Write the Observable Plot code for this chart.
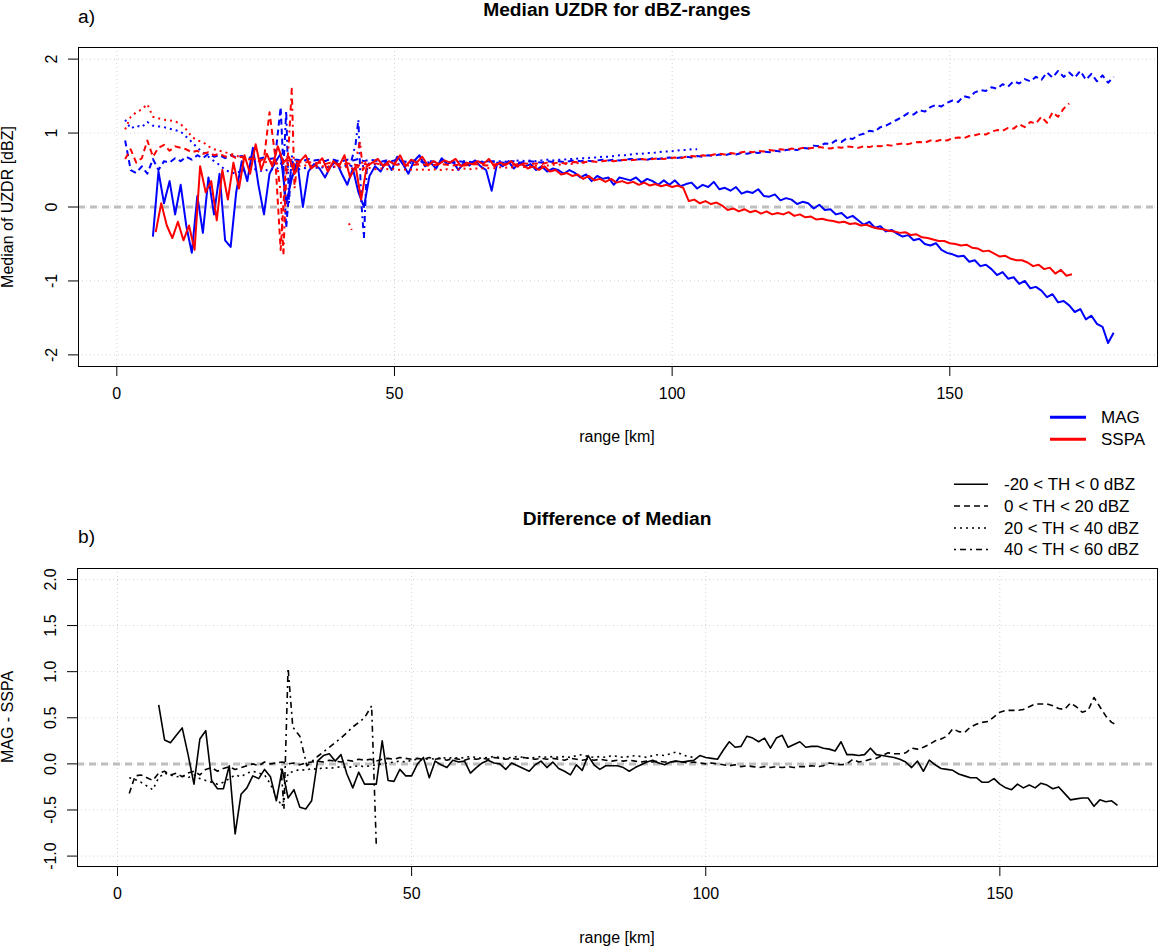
<!DOCTYPE html>
<html><head><meta charset="utf-8">
<script src="https://cdn.jsdelivr.net/npm/d3@7"></script>
<script src="https://cdn.jsdelivr.net/npm/@observablehq/plot@0.6"></script>
<style>
body{margin:0;background:#fff;font-family:"Liberation Sans",Arial,Helvetica,sans-serif;}
#wrap{position:relative;width:1158px;height:947px;overflow:hidden;background:#fff;}
.t{position:absolute;white-space:nowrap;color:#000;line-height:1;}
.c{transform:translate(-50%,-50%);}
.r{transform:translate(-50%,-50%) rotate(-90deg);}
.fig{position:absolute;left:0;}
</style></head><body><div id="wrap"></div>
<script>
// ---------- categories / labels ----------
const systems = ["MAG", "SSPA"];
const systemColors = ["#0000FF", "#FF0000"];
const thClasses = ["-20 < TH < 0 dBZ", "0 < TH < 20 dBZ", "20 < TH < 40 dBZ", "40 < TH < 60 dBZ"];
const xTicks = [0, 50, 100, 150];
const yTicksA = [-2, -1, 0, 1, 2];
const yTicksB = [-1, -0.5, 0, 0.5, 1, 1.5, 2];

// ---------- panel a: MAG (km step 1) ----------
const magSolidStart = 6.5;
const magSolid = [-0.40,0.48,0.05,0.35,-0.10,0.30,-0.25,-0.62,0.15,-0.35,0.40,-0.10,0.45,-0.45,-0.54,0.20,0.62,0.35,0.80,0.30,
-0.10,0.45,0.60,0.72,0.05,0.38,0.62,0.00,0.48,0.58,0.52,0.40,0.55,0.62,0.45,0.30,0.52,0.20,0.00,0.42,
0.55,0.48,0.62,0.50,0.68,0.58,0.45,0.62,0.70,0.55,0.60,0.52,0.66,0.58,0.62,0.50,0.60,0.56,0.63,0.55,
0.50,0.22,0.60,0.55,0.62,0.52,0.60,0.55,0.58,0.50,0.55,0.48,0.52,0.50,0.45,0.50,0.46,0.40,0.44,0.35,
0.42,0.38,0.40,0.30,0.40,0.38,0.36,0.40,0.33,0.38,0.35,0.30,0.36,
0.30,0.36,0.28,0.31,0.33,0.25,0.30,0.27,0.34,0.24,0.26,0.22,0.27,0.18,0.21,0.19,0.24,0.15,0.14,0.17,
0.09,0.12,0.10,0.04,0.07,0.05,-0.02,0.03,-0.04,-0.03,-0.10,-0.08,-0.15,-0.12,-0.18,-0.24,-0.20,-0.28,-0.26,-0.33,
-0.31,-0.36,-0.40,-0.38,-0.45,-0.43,-0.50,-0.52,-0.49,-0.58,-0.62,-0.64,-0.67,-0.66,-0.74,-0.72,-0.80,-0.78,-0.84,-0.92,
-0.88,-0.97,-0.95,-1.04,-1.00,-1.10,-1.08,-1.13,-1.22,-1.18,-1.29,-1.27,-1.33,-1.42,-1.38,-1.52,-1.47,-1.58,-1.62,-1.84,
-1.70];
const magDashedStart = 1.5;
const magDashed = [0.90,0.50,0.46,0.55,0.45,0.65,0.50,0.62,0.60,0.66,0.62,0.68,0.64,0.70,0.66,0.72,0.68,0.70,0.66,0.70,
0.67,0.69,0.66,0.68,0.65,0.67,0.65,0.66,1.35,-0.28,0.64,0.64,0.62,0.65,0.63,0.64,0.62,0.65,0.63,0.62,
0.64,0.63,0.65,0.62,0.64,0.63,0.61,0.63,0.62,0.64,0.62,0.61,0.63,0.62,0.60,0.62,0.61,0.63,0.61,0.60,
0.62,0.61,0.60,0.62,0.61,0.60,0.62,0.61,0.60,0.61,0.62,0.60,0.61,0.62,0.61,0.60,0.62,0.61,0.62,0.61,
0.62,0.63,0.62,0.63,0.62,0.63,0.64,0.63,0.64,0.63,0.64,0.65,0.64,0.65,0.64,0.66,0.65,0.66,0.67,0.66,
0.67,0.68,0.67,0.69,0.68,0.70,0.69,0.71,0.70,0.72,0.71,0.73,0.72,0.74,0.73,0.75,0.74,0.76,0.75,0.77,
0.78,0.77,0.80,0.79,0.83,0.82,0.86,0.85,0.90,0.88,0.93,0.92,0.97,0.99,1.03,1.02,1.08,1.10,1.14,1.18,
1.22,1.27,1.25,1.31,1.29,1.35,1.38,1.36,1.41,1.44,1.42,1.50,1.48,1.55,1.58,1.57,1.62,1.60,1.66,1.63,
1.70,1.67,1.73,1.70,1.76,1.72,1.82,1.75,1.84,1.76,1.82,1.75,1.84,1.72,1.80,1.70,1.78,1.68,1.76];
const magDottedStart = 1.5;
const magDotted = [1.18,1.06,1.10,1.08,1.15,1.10,1.09,1.08,1.06,1.04,1.02,0.95,0.88,0.80,0.74,0.68,0.62,0.57,0.50,0.47,
0.45,0.50,0.48,0.52,0.50,0.48,0.52,0.50,0.55,0.50,0.52,0.50,0.53,0.52,0.54,0.52,0.55,0.53,0.55,0.54,
0.56,0.55,0.57,0.55,0.57,0.58,0.57,0.58,0.59,0.58,0.59,0.60,0.59,0.60,0.61,0.60,0.61,0.60,0.61,0.62,
0.61,0.62,0.61,0.62,0.61,0.62,0.61,0.62,0.62,0.61,0.62,0.63,0.62,0.63,0.62,0.63,0.64,0.63,0.64,0.64,
0.65,0.65,0.66,0.66,0.67,0.67,0.68,0.68,0.69,0.70,0.70,0.71,0.72,0.72,0.73,0.73,0.74,0.75,0.75,0.76,
0.77,0.77,0.78,0.78];
const magDotDashKm = [29.5,30,30.5,31,31.5,32,32.5,37,42,42.5,43,43.5,44,44.5,45,45.5];
const magDotDash   = [0.60,0.50,1.30,0.05,0.70,0.45,0.62,null,0.55,0.70,0.85,1.18,0.10,-0.42,0.50,0.60];

// ---------- panel a: SSPA ----------
const sspaSolidStart = 7;
const sspaSolid = [-0.34,0.05,-0.25,-0.42,-0.20,-0.45,-0.25,-0.58,0.55,0.20,0.35,-0.18,0.50,0.10,0.60,0.25,0.70,0.45,0.85,0.50,
0.72,0.55,0.82,0.60,0.68,0.45,0.62,0.70,0.52,0.58,0.66,0.48,0.62,0.55,0.70,0.40,0.55,0.10,0.55,0.60,
0.65,0.55,0.62,0.58,0.70,0.55,0.64,0.60,0.68,0.56,0.62,0.58,0.63,0.60,0.65,0.55,0.60,0.58,0.62,0.58,
0.65,0.55,0.60,0.57,0.62,0.55,0.58,0.52,0.55,0.50,0.55,0.48,0.50,0.44,0.46,0.42,0.44,0.38,0.42,0.36,
0.38,0.34,0.38,0.33,0.35,0.32,0.34,0.30,0.33,0.29,0.31,0.28,0.30,0.27,0.29,0.26,0.08,0.10,0.05,0.08,
0.04,0.06,0.02,-0.04,-0.02,-0.06,-0.03,-0.07,-0.05,-0.09,-0.06,-0.10,-0.08,-0.10,-0.07,-0.12,-0.10,-0.14,-0.13,-0.17,
-0.16,-0.18,-0.19,-0.21,-0.20,-0.23,-0.22,-0.25,-0.24,-0.27,-0.29,-0.30,-0.32,-0.33,-0.35,-0.34,-0.38,-0.37,-0.41,-0.42,
-0.44,-0.46,-0.46,-0.49,-0.50,-0.52,-0.51,-0.55,-0.56,-0.60,-0.59,-0.63,-0.67,-0.66,-0.70,-0.72,-0.72,-0.75,-0.80,-0.78,
-0.84,-0.82,-0.90,-0.85,-0.93,-0.91];
const sspaDashedStart = 1.5;
const sspaDashed = [0.65,0.78,0.60,0.66,0.90,0.68,0.80,0.84,0.76,0.82,0.80,0.78,0.74,0.76,0.72,0.74,0.70,0.72,0.68,0.70,
0.66,0.68,0.64,0.66,0.62,0.65,1.28,0.70,-0.58,0.62,0.64,0.62,0.60,0.61,0.59,0.60,0.58,0.60,0.59,0.57,
0.59,0.58,0.56,0.58,0.57,0.59,0.58,0.57,0.58,0.57,0.58,0.56,0.57,0.58,0.57,0.56,0.57,0.58,0.57,0.56,
0.57,0.56,0.57,0.58,0.57,0.56,0.57,0.58,0.57,0.58,0.57,0.58,0.59,0.58,0.59,0.58,0.60,0.59,0.60,0.59,
0.60,0.61,0.60,0.61,0.62,0.61,0.62,0.63,0.62,0.63,0.64,0.63,0.64,0.65,0.64,0.65,0.66,0.65,0.66,0.67,
0.66,0.68,0.69,0.68,0.70,0.69,0.71,0.72,0.71,0.73,0.72,0.74,0.75,0.74,0.76,0.75,0.77,0.76,0.78,0.77,
0.79,0.78,0.80,0.79,0.80,0.81,0.80,0.79,0.81,0.80,0.82,0.81,0.80,0.82,0.81,0.83,0.82,0.84,0.83,0.85,
0.86,0.85,0.87,0.88,0.87,0.90,0.89,0.91,0.90,0.93,0.94,0.93,0.96,0.97,0.99,0.98,1.02,1.04,1.03,1.07,
1.06,1.12,1.08,1.15,1.13,1.22,1.14,1.28,1.22,1.33,1.40];
const sspaDottedStart = 1.5;
const sspaDotted = [1.05,1.22,1.28,1.32,1.39,1.22,1.20,1.18,1.17,1.16,1.12,1.05,0.95,0.90,0.88,0.82,0.78,0.76,0.74,0.72,
0.70,0.66,0.64,0.66,0.62,0.60,0.62,0.58,0.60,0.56,0.58,0.55,0.57,0.55,0.56,0.54,0.56,0.54,0.55,0.53,
0.54,0.52,0.54,0.52,0.53,0.51,0.52,0.51,0.52,0.50,0.51,0.50,0.51,0.50,0.51,0.50,0.51,0.50,0.51,0.50,
0.51,0.52,0.51,0.52,0.52,0.53,0.52,0.53,0.54,0.53,0.54,0.55,0.54,0.55,0.56,0.55,0.56,0.57,0.57,0.58,
0.58,0.59,0.60,0.60];
const sspaDotDashKm = [29,29.5,30,30.5,31,31.5,32,32.5,37,41.8,42.3,42.8,43.3,43.8,44.3,44.8];
const sspaDotDash   = [0.50,0.20,-0.65,0.40,0.90,1.60,0.25,0.60,null,-0.22,-0.31,null,0.72,0.88,0.50,0.62];

// ---------- panel b: MAG - SSPA ----------
const diffSolidStart = 7;
const diffSolid = [0.64,0.26,0.23,0.31,0.39,0.10,-0.22,0.27,0.36,-0.18,-0.27,-0.27,-0.02,-0.76,-0.33,-0.26,-0.13,-0.16,-0.06,-0.14,
-0.40,-0.06,-0.37,-0.28,-0.47,-0.49,-0.40,0.03,0.09,0.11,0.03,0.10,-0.11,-0.26,-0.09,-0.22,-0.22,-0.22,0.25,-0.18,
-0.19,-0.06,-0.13,-0.13,0.00,0.07,-0.15,0.03,-0.01,-0.04,0.04,0.02,0.03,-0.10,-0.04,0.01,0.04,0.01,0.00,-0.06,
0.01,-0.02,-0.05,-0.08,-0.01,0.03,-0.04,0.02,-0.05,-0.08,-0.12,-0.01,-0.07,0.09,-0.01,-0.06,-0.02,-0.02,-0.02,-0.04,
-0.08,-0.04,-0.01,0.02,0.04,0.01,-0.01,0.02,0.03,0.02,0.03,0.04,0.09,0.07,0.06,0.05,0.15,0.24,0.18,0.19,
0.30,0.28,0.24,0.28,0.17,0.28,0.31,0.18,0.21,0.24,0.18,0.19,0.19,0.17,0.16,0.14,0.24,0.10,0.10,0.09,
0.10,0.17,0.10,0.09,0.08,0.07,0.05,0.02,-0.04,0.03,-0.08,0.04,-0.01,-0.05,-0.06,-0.07,-0.11,-0.13,-0.15,-0.15,
-0.20,-0.20,-0.16,-0.22,-0.26,-0.28,-0.22,-0.26,-0.23,-0.26,-0.21,-0.23,-0.27,-0.25,-0.32,-0.39,-0.38,-0.37,-0.37,-0.46,
-0.39,-0.41,-0.40,-0.45];
const diffDashedStart = 2;
const diffDashed = [-0.32,-0.13,-0.12,-0.15,-0.18,-0.10,-0.08,-0.12,-0.10,-0.14,-0.10,-0.08,-0.12,-0.06,-0.04,-0.08,-0.05,-0.03,-0.06,-0.04,
-0.02,0.00,-0.02,0.02,0.00,0.01,0.02,0.00,0.01,-0.01,0.01,0.02,0.03,0.02,0.04,0.03,0.02,0.04,0.03,0.05,
0.04,0.05,0.03,0.05,0.06,0.05,0.07,0.06,0.05,0.06,0.05,0.07,0.05,0.06,0.04,0.06,0.05,0.04,0.06,0.05,
0.06,0.05,0.07,0.06,0.05,0.06,0.05,0.07,0.06,0.05,0.06,0.05,0.06,0.05,0.04,0.06,0.05,0.04,0.05,0.04,
0.05,0.04,0.03,0.04,0.03,0.04,0.03,0.02,0.03,0.02,0.03,0.02,0.02,0.03,0.02,0.01,0.02,0.01,0.00,0.01,
0.00,-0.01,-0.02,-0.01,-0.03,-0.02,-0.03,-0.04,-0.03,-0.04,-0.03,-0.04,-0.03,-0.04,-0.03,-0.03,-0.02,-0.03,-0.02,0.01,
0.00,-0.01,0.00,0.05,0.02,0.03,0.05,0.06,0.09,0.12,0.11,0.11,0.12,0.17,0.16,0.18,0.21,0.25,0.27,0.30,
0.38,0.35,0.34,0.40,0.43,0.45,0.46,0.51,0.56,0.58,0.58,0.58,0.59,0.62,0.65,0.65,0.65,0.63,0.60,0.59,
0.66,0.62,0.56,0.58,0.72,0.62,0.52,0.45,0.42];
const diffDottedStart = 2;
const diffDotted = [-0.15,-0.17,-0.20,-0.24,-0.28,-0.15,-0.10,-0.12,-0.14,-0.13,-0.15,-0.12,-0.16,-0.18,-0.20,-0.22,-0.20,-0.16,-0.12,-0.14,
-0.10,-0.08,-0.10,-0.12,-0.22,-0.36,-0.46,-0.10,-0.08,-0.06,-0.07,-0.05,-0.06,-0.04,-0.05,-0.04,-0.03,-0.04,-0.03,-0.02,
-0.03,-0.02,-0.01,0.00,0.01,0.02,0.03,0.02,0.04,0.05,0.04,0.06,0.05,0.07,0.06,0.07,0.06,0.07,0.08,0.07,
0.06,0.07,0.08,0.07,0.06,0.07,0.08,0.07,0.06,0.07,0.08,0.07,0.08,0.07,0.08,0.07,0.09,0.10,0.08,0.07,
0.08,0.07,0.09,0.08,0.07,0.08,0.09,0.08,0.07,0.09,0.10,0.09,0.11,0.13,0.10,0.08,0.07];
const diffDotDashKm = [27.8,28.3,29.0,29.8,31.0,32.2,34,36,38,40,42,43.2,44.0];
const diffDotDash   = [-0.05,-0.48,1.04,0.40,0.30,-0.02,0.08,0.18,0.28,0.40,0.50,0.63,-0.89];

// ---------- helpers ----------
const dashes = [null, "6,4", "2,4", "2,4,6,4"];
const rowsFrom = (start, vals) => vals.map((v, i) => ({km: start + i, v}));
const rowsKm = (kms, vals) => vals.map((v, i) => ({km: kms[i], v}));
const line = (rows, stroke, dash, w) => Plot.line(rows, {x: "km", y: "v", stroke, strokeWidth: w,
  strokeDasharray: dash || undefined, strokeLinejoin: "round", strokeLinecap: "butt"});
const grid = "#d3d3d3";
const font = "'Liberation Sans', Arial, Helvetica, sans-serif";

const magSeries = [rowsFrom(magSolidStart, magSolid), rowsFrom(magDashedStart, magDashed),
  rowsFrom(magDottedStart, magDotted), rowsKm(magDotDashKm, magDotDash)];
const sspaSeries = [rowsFrom(sspaSolidStart, sspaSolid), rowsFrom(sspaDashedStart, sspaDashed),
  rowsFrom(sspaDottedStart, sspaDotted), rowsKm(sspaDotDashKm, sspaDotDash)];
const diffSeries = [rowsFrom(diffSolidStart, diffSolid), rowsFrom(diffDashedStart, diffDashed),
  rowsFrom(diffDottedStart, diffDotted), rowsKm(diffDotDashKm, diffDotDash)];

const wrap = document.getElementById("wrap");

// ---------- panel a ----------
const plotA = Plot.plot({
  width: 1158, height: 410, marginTop: 47, marginBottom: 44, marginLeft: 78, marginRight: 1,
  style: {fontFamily: font, fontSize: "16px", color: "#000", background: "transparent", overflow: "visible"},
  x: {domain: [-6.9, 187.4]},
  y: {domain: [-2.157, 2.157]},
  marks: [
    Plot.gridX({ticks: xTicks, stroke: grid, strokeOpacity: 1, strokeDasharray: "1,3"}),
    Plot.gridY({ticks: yTicksA, stroke: grid, strokeOpacity: 1, strokeDasharray: "1,3"}),
    Plot.ruleY([0], {stroke: "#bebebe", strokeWidth: 3, strokeDasharray: "7,5"}),
    ...magSeries.map((r, i) => line(r, systemColors[0], dashes[i], 2)),
    ...sspaSeries.map((r, i) => line(r, systemColors[1], dashes[i], 2)),
    Plot.frame({stroke: "#000", strokeWidth: 1}),
    Plot.axisX({ticks: xTicks, tickSize: 10, tickPadding: 11, label: null, tickFormat: d => String(d)}),
    Plot.axisY({ticks: yTicksA, tickSize: 10, tickPadding: 12, tickRotate: -90, label: null, tickFormat: d => String(d)})
  ]
});
plotA.classList.add("fig"); plotA.style.top = "0px";
wrap.appendChild(plotA);

// ---------- panel b ----------
const plotB = Plot.plot({
  width: 1158, height: 430, marginTop: 88, marginBottom: 44, marginLeft: 77, marginRight: 1,
  style: {fontFamily: font, fontSize: "16px", color: "#000", background: "transparent", overflow: "visible"},
  x: {domain: [-6.8, 176.8]},
  y: {domain: [-1.113, 2.119]},
  marks: [
    Plot.gridX({ticks: xTicks, stroke: grid, strokeOpacity: 1, strokeDasharray: "1,3"}),
    Plot.gridY({ticks: yTicksB, stroke: grid, strokeOpacity: 1, strokeDasharray: "1,3"}),
    Plot.ruleY([0], {stroke: "#bebebe", strokeWidth: 3, strokeDasharray: "7,5"}),
    ...diffSeries.map((r, i) => line(r, "#000", dashes[i], 1.6)),
    Plot.frame({stroke: "#000", strokeWidth: 1}),
    Plot.axisX({ticks: xTicks, tickSize: 10, tickPadding: 11, label: null, tickFormat: d => String(d)}),
    Plot.axisY({ticks: yTicksB, tickSize: 10, tickPadding: 12, tickRotate: -90, label: null, tickFormat: d => d.toFixed(1)})
  ]
});
plotB.classList.add("fig"); plotB.style.top = "480px";
wrap.appendChild(plotB);

// ---------- text ----------
function text(str, cls, x, y, size, bold) {
  const d = document.createElement("div");
  d.className = "t " + cls;
  d.textContent = str;
  d.style.left = x + "px"; d.style.top = y + "px";
  d.style.fontSize = size + "px";
  if (bold) d.style.fontWeight = "bold";
  wrap.appendChild(d);
}
text("Median UZDR for dBZ-ranges", "c", 617, 10, 19.2, true);
text("a)", "", 78, 7, 19.2);
text("range [km]", "c", 617, 437, 16);
text("Median of UZDR [dBZ]", "r", 8, 207, 16);
text("Difference of Median", "c", 617, 519, 19.2, true);
text("b)", "", 78, 527, 19.2);
text("range [km]", "c", 617, 938, 16);
text("MAG - SSPA", "r", 8, 717, 16);

// ---------- legends ----------
const leg = d3.select(wrap).append("svg")
  .attr("width", 1158).attr("height", 947)
  .style("position", "absolute").style("left", 0).style("top", 0).style("pointer-events", "none")
  .style("font-family", font);
const sysY = [417.3, 439.3];
systems.forEach((s, i) => {
  leg.append("line").attr("x1", 1050).attr("x2", 1086).attr("y1", sysY[i]).attr("y2", sysY[i])
    .attr("stroke", systemColors[i]).attr("stroke-width", 3);
  leg.append("text").attr("x", 1101).attr("y", sysY[i]).attr("dy", "0.35em")
    .attr("font-size", 17).text(s);
});
const thY = [484.3, 506, 528, 549.5];
thClasses.forEach((s, i) => {
  leg.append("line").attr("x1", 954).attr("x2", 988).attr("y1", thY[i]).attr("y2", thY[i])
    .attr("stroke", "#000").attr("stroke-width", 1.5)
    .attr("stroke-dasharray", dashes[i] || null);
  leg.append("text").attr("x", 1004).attr("y", thY[i]).attr("dy", "0.35em")
    .attr("font-size", 17).text(s);
});
</script></body></html>
